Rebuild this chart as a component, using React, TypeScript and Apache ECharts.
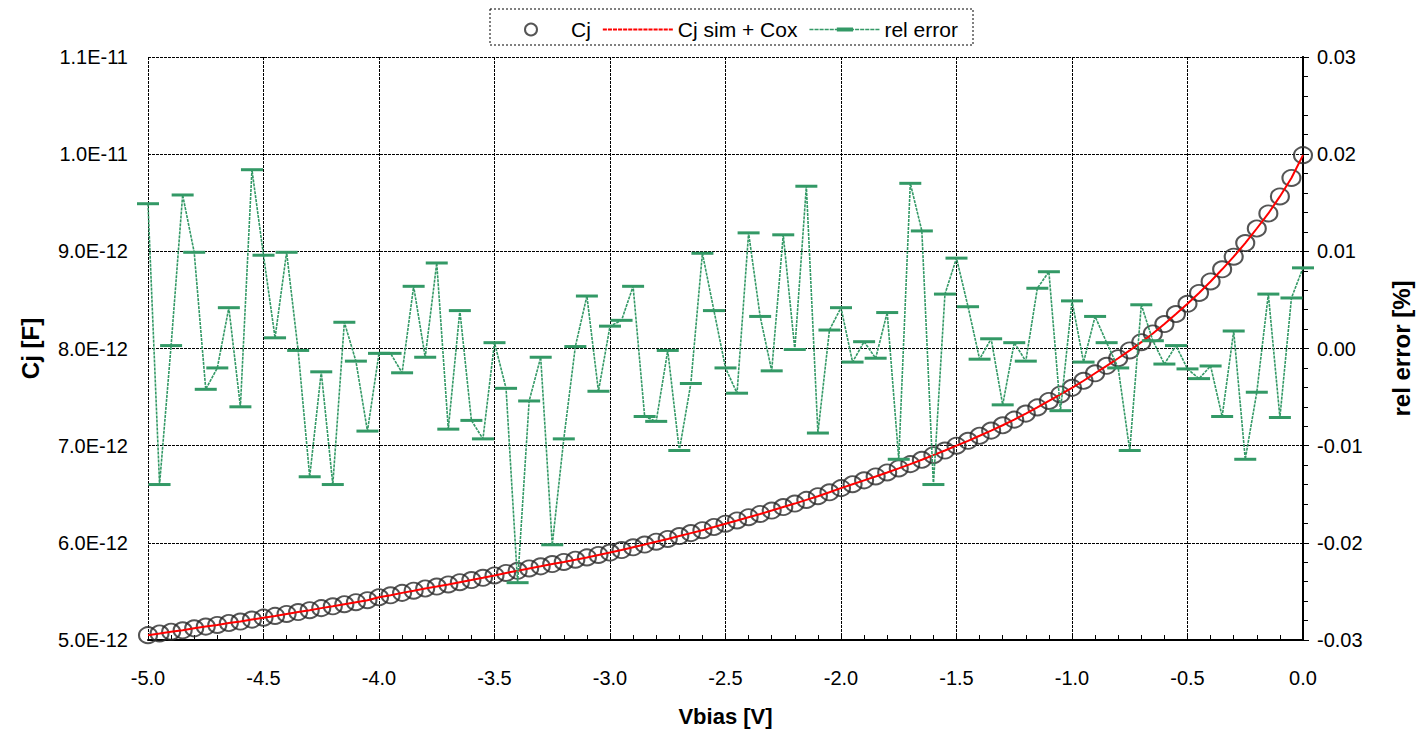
import React, { useEffect, useRef } from "react";
import * as echarts from "echarts";

// Bias voltage grid: -5.0 V to 0.0 V in 0.05 V steps (101 points)
const vbias: number[] = Array.from({ length: 101 }, (_, i) => +(-5 + i * 0.05).toFixed(2));

const cjPF: number[] = [
  5.05, 5.067, 5.085, 5.1, 5.12, 5.138, 5.155, 5.175, 5.19, 5.21,
  5.23, 5.248, 5.268, 5.288, 5.307, 5.328, 5.347, 5.368, 5.389, 5.41,
  5.44, 5.46, 5.485, 5.507, 5.53, 5.55, 5.572, 5.595, 5.617, 5.64,
  5.664, 5.69, 5.712, 5.736, 5.758, 5.782, 5.803, 5.826, 5.85, 5.875,
  5.9, 5.926, 5.954, 5.982, 6.012, 6.04, 6.07, 6.1, 6.13, 6.163,
  6.197, 6.23, 6.264, 6.297, 6.332, 6.368, 6.404, 6.442, 6.48, 6.52,
  6.563, 6.603, 6.643, 6.683, 6.724, 6.766, 6.81, 6.855, 6.902, 6.95,
  7.0, 7.05, 7.102, 7.155, 7.21, 7.268, 7.33, 7.394, 7.46, 7.527,
  7.595, 7.668, 7.745, 7.822, 7.9, 7.98, 8.065, 8.155, 8.252, 8.355,
  8.46, 8.572, 8.69, 8.815, 8.945, 9.085, 9.235, 9.39, 9.565, 9.755,
  9.99,
];

// Simulated Cj + Cox (pF): indistinguishable from the measured values at chart scale
const cjSimPF: number[] = cjPF;

// Relative error [%]
const relError: number[] = [
  0.0149, -0.014, 0.0003, 0.0158, 0.0099, -0.0042, -0.002, 0.0042, -0.006, 0.0184,
  0.0096, 0.0011, 0.0099, -0.0002, -0.0132, -0.0024, -0.014, 0.0027, -0.0013, -0.0085,
  -0.0005, -0.0005, -0.0025, 0.0064, -0.0009, 0.0088, -0.0083, 0.0039, -0.0074, -0.0093,
  0.0006, -0.0041, -0.0241, -0.0054, -0.0009, -0.0202, -0.0093, 0.0002, 0.0054, -0.0044,
  0.0023, 0.0029, 0.0064, -0.007, -0.0075, -0.0002, -0.0105, -0.0036, 0.0098, 0.0039,
  -0.002, -0.0046, 0.0119, 0.0033, -0.0023, 0.0117, -0.0001, 0.0167, -0.0087, 0.0019,
  0.0042, -0.0014, 0.0007, -0.001, 0.0037, -0.0114, 0.017, 0.0121, -0.014, 0.0056,
  0.0093, 0.0043, -0.0011, 0.001, -0.0058, 0.0006, -0.0013, 0.0062, 0.0079, -0.0064,
  0.0049, -0.0014, 0.0033, 0.0006, -0.002, -0.0105, 0.0045, 0.0008, -0.0016, 0.0003,
  -0.0021, -0.0031, -0.0018, -0.007, 0.0018, -0.0114, -0.0045, 0.0056, -0.0071, 0.0052,
  0.0083,
];

const seriesNames = ["Cj", "Cj sim + Cox", "rel error"];

const FONT = '"Liberation Sans", Arial, sans-serif';

// dashed red legend icon (line only, no symbol)
const dashedIcon =
  "path://" + Array.from({ length: 14 }, (_, i) => `M${i * 5},0h4v2h-4z`).join("");

// dashed green legend icon with a short dash marker in the middle
const dashedMarkerIcon =
  "path://" +
  Array.from({ length: 14 }, (_, i) => `M${i * 5},1.2h4v1.6h-4z`).join("") +
  "M27,0h16v4h-16z";

export default function App() {
  const ref = useRef<HTMLDivElement>(null);

  useEffect(() => {
    if (!ref.current) return;
    const chart = echarts.init(ref.current, undefined, { renderer: "svg" });

    const cjData = vbias.map((v, i) => [v, cjPF[i]]);
    const simData = vbias.map((v, i) => [v, cjSimPF[i]]);
    const errData = vbias.map((v, i) => [v, relError[i]]);

    const gridLine = { show: true, lineStyle: { color: "#000", width: 1, type: [3, 1] } };

    chart.setOption({
      animation: false,
      textStyle: { fontFamily: FONT },
      grid: { left: 148, right: 111, top: 57, bottom: 94, containLabel: false },
      legend: {
        data: [
          { name: seriesNames[0] },
          { name: seriesNames[1], icon: dashedIcon, itemStyle: { color: "#ff0000" } },
          { name: seriesNames[2], icon: dashedMarkerIcon, itemStyle: { color: "#339966" } },
        ],
        left: 519,
        top: 14,
        itemWidth: 70,
        itemHeight: 12,
        itemGap: 12,
        textStyle: { fontSize: 21, color: "#000", fontFamily: FONT },
      },
      graphic: [
        {
          type: "rect",
          shape: { x: 490, y: 9, width: 483, height: 36 },
          style: { fill: "none", stroke: "#000", lineWidth: 1, lineDash: [2, 2] },
          z: 100,
        },
      ],
      xAxis: {
        type: "value",
        min: -5,
        max: 0,
        interval: 0.5,
        name: "Vbias [V]",
        nameLocation: "middle",
        nameGap: 65,
        nameTextStyle: { fontWeight: "bold", fontSize: 22, color: "#000", fontFamily: FONT },
        axisLine: { onZero: false, lineStyle: { color: "#000", width: 2 } },
        axisTick: { inside: true, length: 6, lineStyle: { color: "#000" } },
        minorTick: { show: true, splitNumber: 5, length: 5, lineStyle: { color: "#000" } },
        axisLabel: { formatter: (v: number) => v.toFixed(1), fontSize: 20, color: "#000", margin: 28 },
        splitLine: gridLine,
      },
      yAxis: [
        {
          type: "value",
          position: "left",
          min: 5,
          max: 11,
          interval: 1,
          name: "Cj [F]",
          nameLocation: "middle",
          nameRotate: 90,
          nameGap: 106,
          nameTextStyle: { fontWeight: "bold", fontSize: 24, color: "#000", fontFamily: FONT },
          axisLine: { show: true, lineStyle: { color: "#000", width: 2 } },
          axisTick: { show: true, inside: true, length: 6, lineStyle: { color: "#000" } },
          minorTick: { show: true, splitNumber: 5, length: 5, lineStyle: { color: "#000" } },
          axisLabel: {
            formatter: (v: number) => (v * 1e-12).toExponential(1).toUpperCase(),
            fontSize: 20,
            color: "#000",
            margin: 20,
          },
          splitLine: gridLine,
        },
        {
          type: "value",
          position: "right",
          min: -0.03,
          max: 0.03,
          interval: 0.01,
          name: "rel error [%]",
          nameLocation: "middle",
          nameRotate: 90,
          nameGap: 86,
          nameTextStyle: { fontWeight: "bold", fontSize: 24, color: "#000", fontFamily: FONT },
          axisLine: { show: true, lineStyle: { color: "#000", width: 2 } },
          axisTick: { show: true, length: 5, lineStyle: { color: "#000" } },
          axisLabel: {
            formatter: (v: number) => (Math.abs(v) < 1e-9 ? 0 : v).toFixed(2),
            fontSize: 20,
            color: "#000",
            margin: 14,
          },
          splitLine: { show: false },
        },
      ],
      series: [
        {
          name: "Cj",
          type: "scatter",
          yAxisIndex: 0,
          data: cjData,
          symbol: "circle",
          symbolSize: [18, 16],
          itemStyle: { color: "rgba(0,0,0,0)", borderColor: "#2b2b2b", borderWidth: 2 },
          z: 2,
        },
        {
          name: "Cj sim + Cox",
          type: "line",
          yAxisIndex: 0,
          data: simData,
          symbol: "none",
          showSymbol: false,
          lineStyle: { color: "#ff0000", width: 2 },
          itemStyle: { color: "#ff0000" },
          z: 3,
        },
        {
          name: "rel error",
          type: "line",
          yAxisIndex: 1,
          data: errData,
          symbol: "rect",
          symbolSize: [22, 3],
          lineStyle: { color: "#339966", width: 1.6, type: [3, 1] },
          itemStyle: { color: "#339966" },
          z: 4,
        },
      ],
    });

    return () => chart.dispose();
  }, []);

  return (
    <div
      ref={ref}
      style={{ position: "absolute", left: 0, top: 0, width: 1421, height: 734, background: "#fff" }}
    />
  );
}
